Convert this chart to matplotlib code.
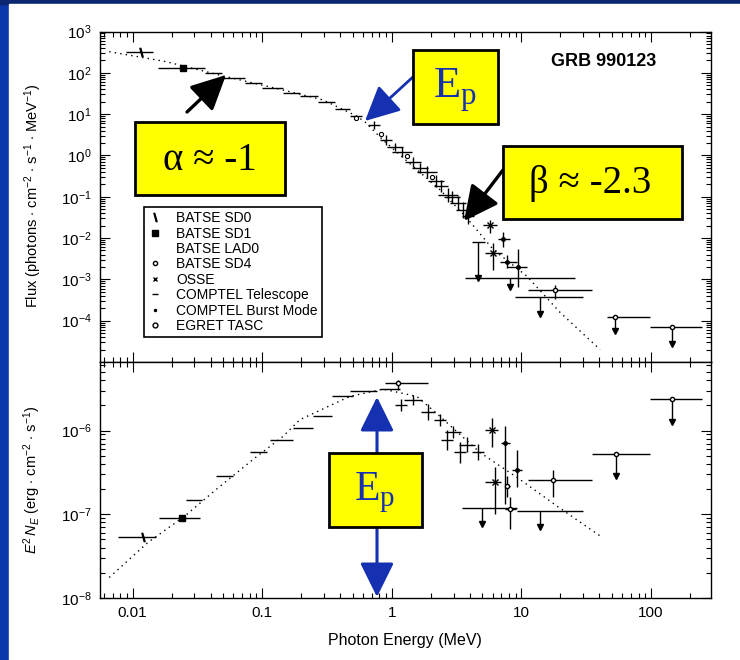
import numpy as np
import matplotlib
matplotlib.use('Agg')
import matplotlib.pyplot as plt
from matplotlib import ticker
from matplotlib.lines import Line2D
from matplotlib.patches import Rectangle, FancyArrowPatch

plt.rcParams['font.family'] = ['Liberation Sans', 'DejaVu Sans']
plt.rcParams['mathtext.fontset'] = 'custom'
plt.rcParams['mathtext.rm'] = 'Liberation Sans'
plt.rcParams['mathtext.it'] = 'Liberation Sans:italic'
plt.rcParams['mathtext.bf'] = 'Liberation Sans:bold'

# ---------------- data: top panel, photon flux ----------------
model_e = [0.0066, 0.018, 0.050, 0.163, 0.295, 0.53, 0.62, 0.85, 1.46, 2.35, 3.78, 6.05, 11.0, 19.8, 40.4]
model_f = [325, 187, 84, 35, 22, 9.1, 6.5, 2.4, 0.54, 0.148, 0.031, 0.0053, 0.0012, 1.6e-4, 2.0e-5]

sd0_e, sd0_lo, sd0_hi, sd0_f = [0.0117], [0.0089], [0.0144], [315]
sd1_e, sd1_lo, sd1_hi, sd1_f = [0.0243], [0.0157], [0.036], [131]

lad_e = [0.042, 0.060, 0.085, 0.119, 0.168, 0.229, 0.312, 0.415, 0.527]
lad_lo = [0.036, 0.049, 0.073, 0.099, 0.144, 0.195, 0.269, 0.363, 0.474]
lad_hi = [0.049, 0.073, 0.099, 0.144, 0.195, 0.269, 0.363, 0.474, 0.586]
lad_f = [99, 74, 57, 43, 33, 27, 20, 13.5, 9.2]

hx_e = [0.73, 0.90, 1.05, 1.19, 1.45, 1.64, 1.86, 2.19, 2.39, 2.70, 2.90, 3.24, 3.53, 3.86]
hx_lo = [0.66, 0.81, 0.91, 1.00, 1.26, 1.42, 1.56, 1.90, 2.11, 2.26, 2.52, 2.81, 3.12, 3.47]
hx_hi = [0.81, 1.00, 1.21, 1.42, 1.67, 1.89, 2.22, 2.52, 2.70, 3.23, 3.34, 3.74, 4.00, 4.30]
hx_f = [5.5, 2.4, 1.6, 1.23, 0.70, 0.50, 0.40, 0.245, 0.185, 0.112, 0.100, 0.072, 0.049, 0.035]
hx_flo = [4.4, 1.8, 1.28, 0.93, 0.53, 0.38, 0.29, 0.175, 0.13, 0.076, 0.072, 0.049, 0.031, 0.022]
hx_fhi = [6.9, 3.2, 2.0, 1.62, 0.92, 0.66, 0.56, 0.34, 0.26, 0.165, 0.14, 0.106, 0.076, 0.055]

sd4_e = [0.53, 0.83, 1.30, 2.05]
sd4_f = [8.2, 3.3, 0.95, 0.30]

osse_e = [5.71, 6.03]
osse_lo = [5.05, 5.22]
osse_hi = [6.47, 7.06]
osse_f = [0.0212, 0.00447]
osse_flo = [0.0136, 0.00173]
osse_fhi = [0.028, 0.0078]

burst_e = [7.24, 7.73, 9.40]
burst_lo = [6.59, 6.82, 7.73]
burst_hi = [8.15, 9.23, 11.0]
burst_f = [0.00957, 0.0027, 0.00194]
burst_flo = [0.00624, 0.0019, 0.00067]
burst_fhi = [0.01435, 0.0038, 0.0053]

tel_e, tel_lo, tel_hi = [18.2], [11.2], [35.0]
tel_f, tel_flo, tel_fhi = [5.4e-4], [3.27e-4], [7.5e-4]

tel_ul_e = [4.61, 8.15, 13.9]
tel_ul_lo = [4.15, 3.66, 8.9]
tel_ul_hi = [5.22, 25.9, 29.9]
tel_ul_f = [8.2e-3, 1.11e-3, 3.66e-4]
tel_ul_end = [1.11e-3, 6.4e-4, 1.42e-4]

egret_e = [52.7, 145]
egret_lo = [45.7, 98]
egret_hi = [98, 248]
egret_f = [1.2e-4, 6.9e-5]
egret_end = [5.5e-5, 2.7e-5]

# ---------------- data: bottom panel, E^2 N_E ----------------
nmodel_e = [0.0066, 0.0131, 0.0252, 0.0443, 0.0849, 0.145, 0.195, 0.474, 0.857, 1.56, 2.35, 4.79, 9.73, 18.7, 40.4]
nmodel_n = [1.76e-8, 4.6e-8, 9.5e-8, 1.99e-7, 4.52e-7, 8.55e-7, 1.35e-6, 2.56e-6, 3.13e-6, 2.56e-6,
            1.48e-6, 5.47e-7, 2.61e-7, 1.26e-7, 5.52e-8]

bsd0_e, bsd0_lo, bsd0_hi, bsd0_n = [0.0120], [0.0077], [0.0152], [5.3e-8]
bsd1_e, bsd1_lo, bsd1_hi, bsd1_n = [0.0242], [0.0161], [0.0329], [9.1e-8]

blad_e = [0.030, 0.051, 0.093, 0.140, 0.205, 0.290, 0.415, 0.60, 0.96]
blad_lo = [0.026, 0.044, 0.080, 0.114, 0.172, 0.245, 0.344, 0.474, 0.807]
blad_hi = [0.034, 0.059, 0.108, 0.172, 0.245, 0.343, 0.50, 0.766, 1.15]
blad_n = [1.47e-7, 2.86e-7, 5.5e-7, 7.8e-7, 1.06e-6, 1.51e-6, 2.57e-6, 2.94e-6, 3.1e-6]

bhx_e = [1.17, 1.45, 1.90, 2.35, 2.66, 2.96, 3.35, 3.79, 4.61]
bhx_lo = [1.05, 1.24, 1.68, 2.11, 2.39, 2.57, 3.01, 3.29, 4.14]
bhx_hi = [1.30, 1.70, 2.15, 2.62, 2.96, 3.41, 3.73, 4.37, 5.13]
bhx_n = [2.04e-6, 2.34e-6, 1.68e-6, 1.35e-6, 7.8e-7, 9.7e-7, 5.5e-7, 6.8e-7, 5.6e-7]
bhx_nlo = [1.73e-6, 2.04e-6, 1.35e-6, 1.15e-6, 5.9e-7, 8.2e-7, 4.1e-7, 5.5e-7, 4.5e-7]
bhx_nhi = [2.4e-6, 2.68e-6, 2.09e-6, 1.59e-6, 1.03e-6, 1.14e-6, 7.4e-7, 8.5e-7, 7.0e-7]

bsd4_e, bsd4_lo, bsd4_hi = [1.11, 7.7], [0.88, 7.4], [1.90, 8.1]
bsd4_n, bsd4_nlo, bsd4_nhi = [3.7e-6, 2.2e-7], [3.08e-6, 1.6e-7], [4.05e-6, 2.9e-7]

bosse_e = [5.89, 6.24]
bosse_lo = [5.22, 5.22]
bosse_hi = [6.59, 7.0]
bosse_n = [1.03e-6, 2.4e-7]
bosse_nlo = [6.3e-7, 1.0e-7]
bosse_nhi = [1.43e-6, 3.63e-7]

bburst_e = [7.46, 9.23]
bburst_lo = [6.9, 8.4]
bburst_hi = [8.1, 10.1]
bburst_n = [7.2e-7, 3.4e-7]
bburst_nlo = [1.31e-7, 2.1e-7]
bburst_nhi = [1.12e-6, 5.9e-7]

btel_e, btel_lo, btel_hi = [17.5, 8.15], [11.2, 7.4], [35.0, 9.0]
btel_n, btel_nlo, btel_nhi = [2.6e-7, 1.15e-7], [1.6e-7, 6.6e-8], [3.4e-7, 1.59e-7]

btel_ul_e = [4.95, 13.9]
btel_ul_lo = [3.47, 9.2]
btel_ul_hi = [9.2, 29.9]
btel_ul_n = [1.18e-7, 1.09e-7]
btel_ul_end = [7.6e-8, 7.0e-8]

begret_e = [53.7, 145]
begret_lo = [35, 98]
begret_hi = [98, 248]
begret_n = [5.3e-7, 2.4e-6]
begret_end = [2.83e-7, 1.28e-6]

legend_labels = ['BATSE SD0', 'BATSE SD1', 'BATSE LAD0', 'BATSE SD4', 'OSSE',
                 'COMPTEL Telescope', 'COMPTEL Burst Mode', 'EGRET TASC']
x_ticks = [0.01, 0.1, 1, 10, 100]

W, H = 740, 660


def fx(x):
    return x / W


def fy(y):
    return 1 - y / H


def bars(ax, e, lo, hi, y, ylo=None, yhi=None, marker=None, **kw):
    e, lo, hi, y = map(np.asarray, (e, lo, hi, y))
    yerr = None
    if ylo is not None:
        yerr = [y - np.asarray(ylo), np.asarray(yhi) - y]
    if marker is None:
        ax.errorbar(e, y, xerr=[e - lo, hi - e], yerr=yerr, fmt='none',
                    ecolor='k', elinewidth=1.0, capsize=0)
    else:
        ax.errorbar(e, y, xerr=[e - lo, hi - e], yerr=yerr, ls='none', marker=marker,
                    color='k', ecolor='k', elinewidth=1.0, capsize=0,
                    mfc=kw.pop('mfc', 'k'), mec='k', **kw)


def limits(ax, e, lo, hi, y, yend, marker=None, **kw):
    e, lo, hi, y, yend = map(np.asarray, (e, lo, hi, y, yend))
    ax.errorbar(e, y, xerr=[e - lo, hi - e], yerr=[y - yend, np.zeros_like(y)],
                ls='none', marker=marker if marker else 'None', color='k', ecolor='k',
                elinewidth=1.0, capsize=0, mfc='white', mec='k', **kw)
    ax.plot(e, yend, 'v', color='k', ms=4)


fig = plt.figure(figsize=(7.4, 6.6), dpi=100, facecolor='#0a38a8')
fig.patches.append(Rectangle((0, fy(4)), 1, 4 / H, transform=fig.transFigure,
                             color='#0c2670', zorder=-10))
fig.patches.append(Rectangle((fx(9), 0), 1, fy(4), transform=fig.transFigure,
                             color='white', zorder=-10))

ax1 = fig.add_axes([fx(100), fy(362), fx(711) - fx(100), fy(31.5) - fy(362)])
ax2 = fig.add_axes([fx(100), fy(598), fx(711) - fx(100), fy(362) - fy(598)])

# top panel
ax1.plot(model_e, model_f, color='k', lw=1.0, ls=(0, (1, 3)))
bars(ax1, sd0_e, sd0_lo, sd0_hi, sd0_f, marker=r'$\backslash$', ms=6)
bars(ax1, sd1_e, sd1_lo, sd1_hi, sd1_f, marker='s', ms=4.5)
bars(ax1, lad_e, lad_lo, lad_hi, lad_f)
bars(ax1, hx_e, hx_lo, hx_hi, hx_f, hx_flo, hx_fhi)
ax1.plot(sd4_e, sd4_f, 'o', ms=3, mfc='white', mec='k', mew=0.8)
bars(ax1, osse_e, osse_lo, osse_hi, osse_f, osse_flo, osse_fhi, marker='x', ms=5)
bars(ax1, burst_e, burst_lo, burst_hi, burst_f, burst_flo, burst_fhi, marker='.', ms=5)
bars(ax1, tel_e, tel_lo, tel_hi, tel_f, tel_flo, tel_fhi, marker='o', ms=3, mfc='white')
limits(ax1, tel_ul_e, tel_ul_lo, tel_ul_hi, tel_ul_f, tel_ul_end)
limits(ax1, egret_e, egret_lo, egret_hi, egret_f, egret_end, marker='o', ms=3)

# bottom panel
ax2.plot(nmodel_e, nmodel_n, color='k', lw=1.0, ls=(0, (1, 3)))
bars(ax2, bsd0_e, bsd0_lo, bsd0_hi, bsd0_n, marker=r'$\backslash$', ms=6)
bars(ax2, bsd1_e, bsd1_lo, bsd1_hi, bsd1_n, marker='s', ms=4.5)
bars(ax2, blad_e, blad_lo, blad_hi, blad_n)
bars(ax2, bhx_e, bhx_lo, bhx_hi, bhx_n, bhx_nlo, bhx_nhi)
bars(ax2, bsd4_e, bsd4_lo, bsd4_hi, bsd4_n, bsd4_nlo, bsd4_nhi, marker='o', ms=3, mfc='white')
bars(ax2, bosse_e, bosse_lo, bosse_hi, bosse_n, bosse_nlo, bosse_nhi, marker='x', ms=5)
bars(ax2, bburst_e, bburst_lo, bburst_hi, bburst_n, bburst_nlo, bburst_nhi, marker='.', ms=5)
bars(ax2, btel_e, btel_lo, btel_hi, btel_n, btel_nlo, btel_nhi, marker='o', ms=3, mfc='white')
limits(ax2, btel_ul_e, btel_ul_lo, btel_ul_hi, btel_ul_n, btel_ul_end)
limits(ax2, begret_e, begret_lo, begret_hi, begret_n, begret_end, marker='o', ms=3)

for ax in (ax1, ax2):
    ax.set_xscale('log')
    ax.set_yscale('log')
    ax.set_xlim(0.0056, 290)
    ax.tick_params(which='both', direction='in', top=True, right=True, width=0.8,
                   labelsize=11, pad=6)
    ax.tick_params(which='major', length=7)
    ax.tick_params(which='minor', length=3.5)
    ax.yaxis.set_major_locator(ticker.LogLocator(base=10, numticks=20))
    ax.yaxis.set_minor_locator(ticker.LogLocator(base=10, subs=np.arange(2, 10), numticks=20))
    for s in ax.spines.values():
        s.set_linewidth(1.0)

ax1.set_ylim(1e-5, 1e3)
ax1.set_yticks([1e3, 1e2, 1e1, 1e0, 1e-1, 1e-2, 1e-3, 1e-4])
ax1.tick_params(axis='x', labelbottom=False)
ax2.set_ylim(1e-8, 6.6e-6)
ax2.set_xticks(x_ticks)
ax2.xaxis.set_major_formatter(ticker.FuncFormatter(lambda v, p: '{:g}'.format(v)))

fig.text(fx(33), fy(196), r'Flux (photons $\cdot$ cm$^{-2}$ $\cdot$ s$^{-1}$ $\cdot$ MeV$^{-1}$)',
         rotation=90, ha='center', va='center', fontsize=10.5)
fig.text(fx(32), fy(480), r'$E^2\,N_E$ (erg $\cdot$ cm$^{-2}$ $\cdot$ s$^{-1}$)',
         rotation=90, ha='center', va='center', fontsize=10.5)
fig.text(fx(405), fy(641), 'Photon Energy (MeV)', ha='center', va='center', fontsize=11.5)
fig.text(fx(604), fy(62), 'GRB 990123', ha='center', va='center', fontsize=13,
         fontweight='bold')

handles = [
    Line2D([], [], ls='none', marker=r'$\backslash$', ms=6, color='k'),
    Line2D([], [], ls='none', marker='s', ms=4, color='k'),
    Line2D([], [], ls='none', marker='None'),
    Line2D([], [], ls='none', marker='o', ms=3, mfc='white', mec='k'),
    Line2D([], [], ls='none', marker='x', ms=3.5, color='k'),
    Line2D([], [], ls='none', marker='_', ms=5, color='k'),
    Line2D([], [], ls='none', marker='.', ms=3, color='k'),
    Line2D([], [], ls='none', marker='o', ms=3.5, mfc='white', mec='k'),
]
leg = ax1.legend(handles, legend_labels, loc='upper left', bbox_to_anchor=(fx(144), fy(207)),
                 bbox_transform=fig.transFigure, borderaxespad=0, fontsize=10,
                 frameon=True, fancybox=False, framealpha=1, edgecolor='k',
                 labelspacing=0.1, handlelength=1.0, handletextpad=1.0, borderpad=0.3)
leg.get_frame().set_linewidth(1.2)

# yellow annotation boxes and arrows
blue = '#1530b0'
boxes = [((135, 122), (285, 195)), ((413, 50), (498, 124)),
         ((503, 146), (682, 219)), ((329, 453), (422, 527))]
for (x0, y0), (x1, y1) in boxes:
    fig.patches.append(Rectangle((fx(x0), fy(y1)), fx(x1) - fx(x0), fy(y0) - fy(y1),
                                 transform=fig.transFigure, facecolor='#ffff00',
                                 edgecolor='k', lw=2, zorder=10))

serif = ['Liberation Serif', 'DejaVu Serif']
fig.text(fx(210), fy(160), 'α ≈ -1', ha='center', va='center', fontsize=28,
         family=serif, zorder=11)
fig.text(fx(590), fy(183), 'β ≈ -2.3', ha='center', va='center', fontsize=28,
         family=serif, zorder=11)
fig.text(fx(455), fy(90), r'E$_\mathregular{p}$', ha='center', va='center', fontsize=32,
         family=serif, color=blue, zorder=11)
fig.text(fx(375), fy(493), r'E$_\mathregular{p}$', ha='center', va='center', fontsize=30,
         family=serif, color=blue, zorder=11)

arrows = [((187, 112), (226, 75), 'k', '-|>', 2.4),
          ((414, 76), (365, 121), blue, '-|>', 2.0),
          ((503, 170), (464, 221), 'k', '-|>', 2.4),
          ((377, 597), (377, 397), blue, '<|-|>', 2.2)]
for (xa, ya), (xb, yb), c, style, lw in arrows:
    fig.add_artist(FancyArrowPatch((fx(xa), fy(ya)), (fx(xb), fy(yb)),
                                   transform=fig.transFigure,
                                   arrowstyle=style + ',head_length=0.85,head_width=0.42',
                                   mutation_scale=25, lw=lw, color=c,
                                   shrinkA=0, shrinkB=0, zorder=9))

fig.savefig('out.png', dpi=100, facecolor=fig.get_facecolor())
